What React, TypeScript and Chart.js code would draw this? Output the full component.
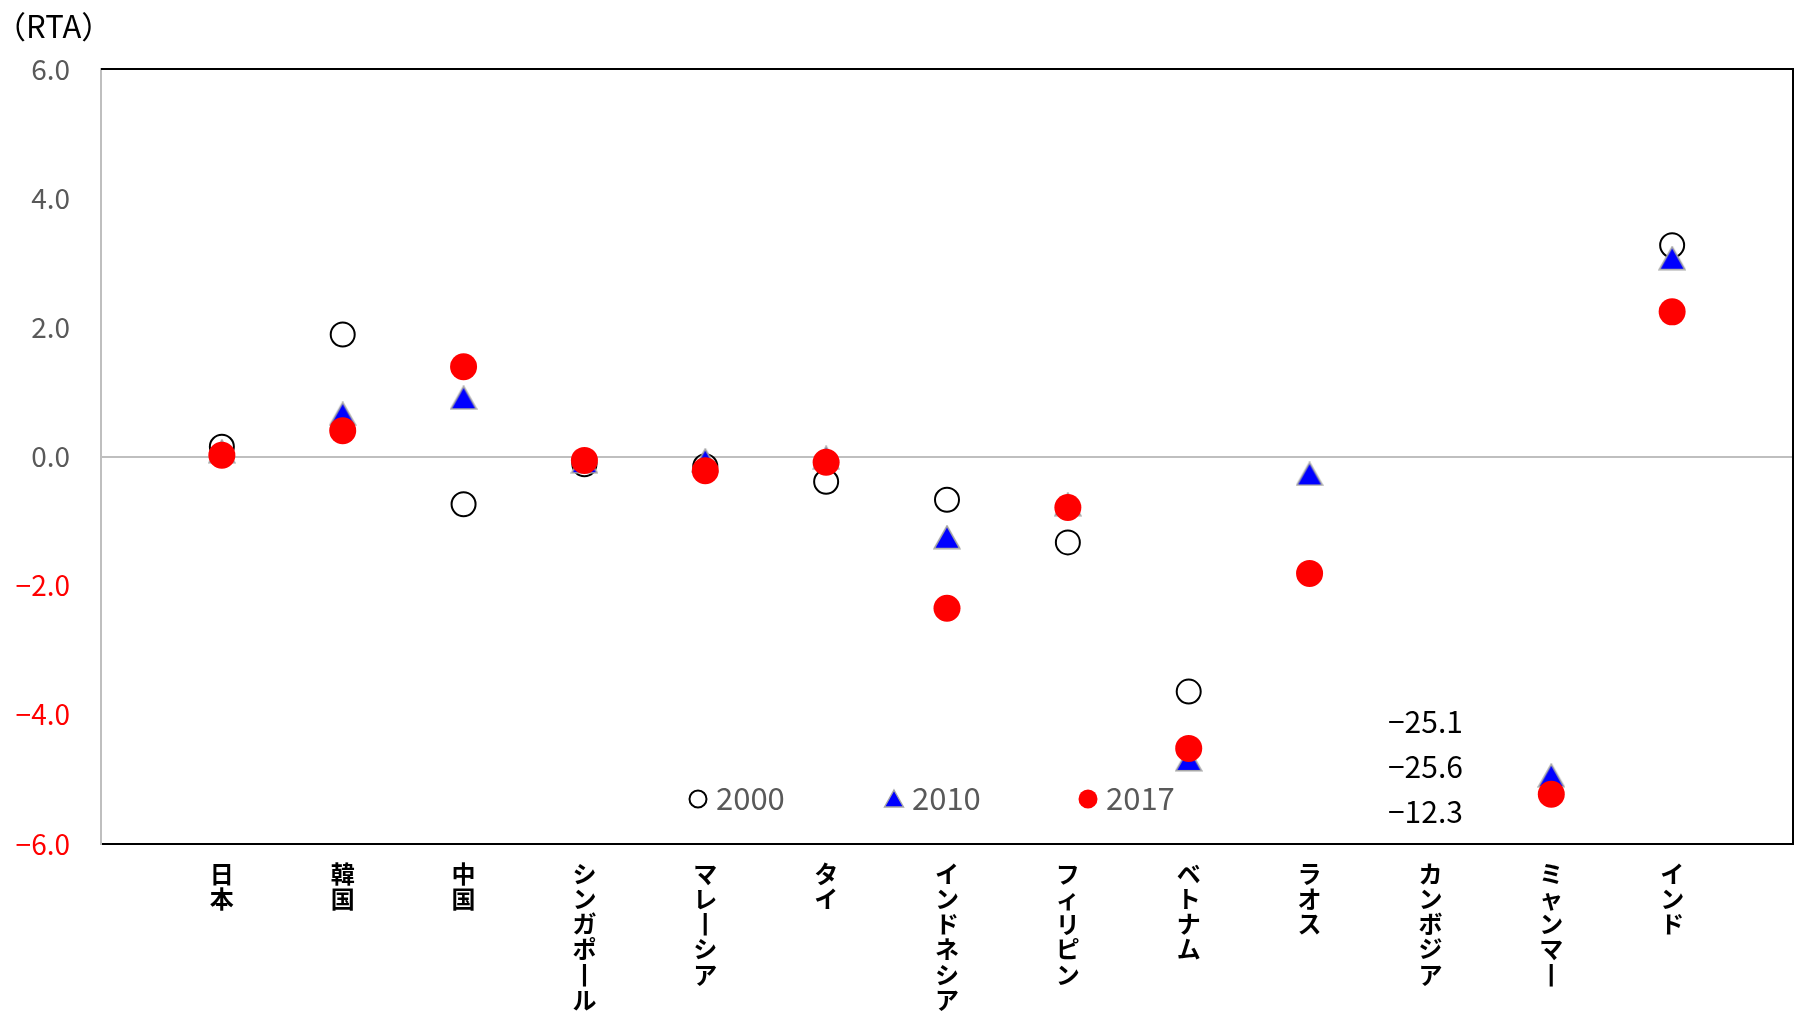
import React, { useEffect, useRef } from "react";
import { Chart, registerables } from "chart.js";

Chart.register(...registerables);

const categories = [
  "日本", "韓国", "中国", "シンガポール", "マレーシア", "タイ", "インドネシア",
  "フィリピン", "ベトナム", "ラオス", "カンボジア", "ミャンマー", "インド",
];
const seriesNames = ["2000", "2010", "2017"];
const values2000 = [0.15, 1.89, -0.74, -0.12, -0.15, -0.39, -0.67, -1.33, -3.64, null, -25.1, null, 3.27];
const values2010 = [0.08, 0.66, 0.91, -0.08, -0.06, -0.02, -1.25, -0.74, -4.69, -0.27, -25.6, -4.94, 3.07];
const values2017 = [0.02, 0.40, 1.39, -0.06, -0.22, -0.09, -2.35, -0.79, -4.52, -1.81, -12.3, -5.23, 2.24];
const yTicks = [-6, -4, -2, 0, 2, 4, 6];
const yUnitLabel = "（RTA）";
const outOfRangeCategory = "カンボジア";

const FONT = "'Noto Sans CJK JP', 'Noto Sans', sans-serif";

function fmt(v: number): string {
  return v < 0 ? "−" + Math.abs(v).toFixed(1) : v.toFixed(1);
}

function makeTriangle(w: number, h: number): HTMLCanvasElement {
  const c = document.createElement("canvas");
  c.width = w;
  c.height = h;
  const g = c.getContext("2d")!;
  g.beginPath();
  g.moveTo(w / 2, 1.2);
  g.lineTo(w - 1.2, h - 1.2);
  g.lineTo(1.2, h - 1.2);
  g.closePath();
  g.fillStyle = "#0000ff";
  g.fill();
  g.lineWidth = 1.6;
  g.strokeStyle = "#a6a6a6";
  g.lineJoin = "miter";
  g.stroke();
  return c;
}

export default function App() {
  const ref = useRef<HTMLCanvasElement | null>(null);

  useEffect(() => {
    if (!ref.current) return;
    const labels = [" ", ...categories, "  "];
    const pad = (arr: (number | null)[]) => [null, ...arr, null];
    const tri = makeTriangle(28, 25);

    const extras = {
      id: "extras",
      afterDraw(chart: any) {
        const { ctx, chartArea } = chart;
        const xs = chart.scales.x;
        ctx.save();
        // top & right frame
        ctx.strokeStyle = "#000000";
        ctx.lineWidth = 2;
        ctx.beginPath();
        ctx.moveTo(chartArea.left, chartArea.top);
        ctx.lineTo(chartArea.right, chartArea.top);
        ctx.lineTo(chartArea.right, chartArea.bottom);
        ctx.stroke();

        // unit label
        ctx.fillStyle = "#000000";
        ctx.font = `31px ${FONT}`;
        ctx.textAlign = "left";
        ctx.textBaseline = "middle";
        ctx.fillText(yUnitLabel, -5, 26);

        // out-of-range annotations
        const ci = categories.indexOf(outOfRangeCategory);
        const cx = xs.getPixelForValue(ci + 1) - 5;
        const vals = [values2000[ci], values2010[ci], values2017[ci]];
        ctx.font = `30px ${FONT}`;
        ctx.textAlign = "center";
        ctx.fillStyle = "#000000";
        const offs = [122, 77, 32];
        vals.forEach((v, i) => {
          if (v === null) return;
          ctx.fillText(fmt(v as number), cx, chartArea.bottom - offs[i]);
        });

        // legend
        const ly = chartArea.bottom - 46;
        const lx = [597, 793, 987].map((d) => chartArea.left + d);
        ctx.font = `31px ${FONT}`;
        ctx.textAlign = "left";
        // 2000 circle
        ctx.beginPath();
        ctx.arc(lx[0], ly + 1, 8.5, 0, Math.PI * 2);
        ctx.fillStyle = "#ffffff";
        ctx.fill();
        ctx.lineWidth = 2;
        ctx.strokeStyle = "#000000";
        ctx.stroke();
        // 2010 triangle
        ctx.beginPath();
        ctx.moveTo(lx[1], ly - 8);
        ctx.lineTo(lx[1] + 9.5, ly + 9);
        ctx.lineTo(lx[1] - 9.5, ly + 9);
        ctx.closePath();
        ctx.fillStyle = "#0000ff";
        ctx.fill();
        ctx.lineWidth = 1.4;
        ctx.strokeStyle = "#a6a6a6";
        ctx.stroke();
        // 2017 dot
        ctx.beginPath();
        ctx.arc(lx[2], ly + 1, 9.5, 0, Math.PI * 2);
        ctx.fillStyle = "#ff0000";
        ctx.fill();
        ctx.fillStyle = "#595959";
        seriesNames.forEach((n, i) => {
          ctx.fillText(n, lx[i] + 18, ly);
        });
        ctx.restore();
      },
    };

    const chart = new Chart(ref.current, {
      type: "line",
      data: {
        labels,
        datasets: [
          {
            label: seriesNames[0],
            data: pad(values2000),
            showLine: false,
            pointStyle: "circle",
            pointRadius: 12,
            pointBorderWidth: 2,
            pointBorderColor: "#000000",
            pointBackgroundColor: "#ffffff",
            order: 3,
          },
          {
            label: seriesNames[1],
            data: pad(values2010),
            showLine: false,
            pointStyle: tri as any,
            pointRadius: 13,
            order: 2,
          },
          {
            label: seriesNames[2],
            data: pad(values2017),
            showLine: false,
            pointStyle: "circle",
            pointRadius: 13.5,
            pointBorderWidth: 0,
            pointBorderColor: "#ff0000",
            pointBackgroundColor: "#ff0000",
            order: 1,
          },
        ],
      },
      options: {
        responsive: false,
        animation: false,
        devicePixelRatio: 1,
        layout: { autoPadding: false, padding: { top: 69, right: 11, left: 0, bottom: 0 } },
        plugins: { legend: { display: false }, tooltip: { enabled: false } },
        events: [],
        scales: {
          x: {
            type: "category",
            offset: false,
            grid: { color: "transparent", drawTicks: false },
            border: { display: true, color: "#000000", width: 2 },
            ticks: {
              autoSkip: false,
              maxRotation: 0,
              minRotation: 0,
              padding: 17,
              color: "#000000",
              font: { family: FONT, size: 24, weight: "bold", lineHeight: 1.05 },
              callback: (_v: any, idx: number) => {
                const l = labels[idx];
                if (!l || !l.trim()) return "";
                return Array.from(l).map((c) => (c === "ー" ? "丨" : c));
              },
            },
            afterFit: (s: any) => {
              s.height = 181;
              s.paddingLeft = 0;
              s.paddingRight = 0;
            },
          },
          y: {
            type: "linear",
            min: yTicks[0],
            max: yTicks[yTicks.length - 1],
            afterBuildTicks: (s: any) => {
              s.ticks = yTicks.map((v) => ({ value: v }));
            },
            grid: {
              drawTicks: false,
              lineWidth: 2,
              color: (c: any) => (c.tick && c.tick.value === 0 ? "#bfbfbf" : "transparent"),
            },
            border: { display: true, color: "#bfbfbf", width: 2 },
            ticks: {
              padding: 31,
              font: { family: FONT, size: 28 },
              color: (c: any) => (c.tick && c.tick.value < 0 ? "#ff0000" : "#595959"),
              callback: (v: any) => fmt(Number(v)),
            },
            afterFit: (s: any) => {
              s.width = 101;
            },
          },
        },
      },
      plugins: [extras],
    } as any);
    return () => chart.destroy();
  }, []);

  return (
    <div style={{ position: "absolute", left: 0, top: 0, width: 1804, height: 1025, background: "#ffffff" }}>
      <canvas ref={ref} width={1804} height={1025} style={{ display: "block" }} />
    </div>
  );
}
